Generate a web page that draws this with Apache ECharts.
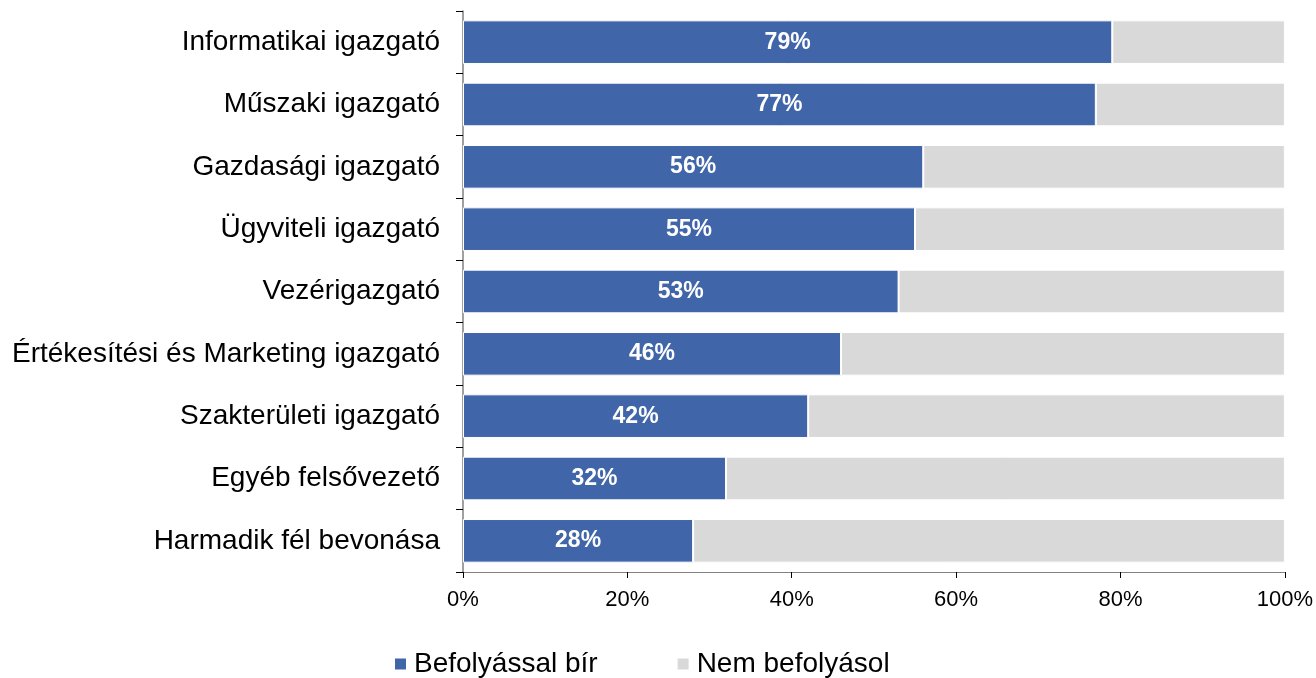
<!DOCTYPE html>
<html>
<head>
<meta charset="utf-8">
<script src="https://cdn.jsdelivr.net/npm/echarts@6/dist/echarts.min.js"></script>
<style>
  html, body { margin: 0; padding: 0; background: #fff; }
  #chart { width: 1316px; height: 678px; }
</style>
</head>
<body>
<div id="chart"></div>
<script>
// kategóriák felülről lefelé
const categories = [
  'Informatikai igazgató',
  'Műszaki igazgató',
  'Gazdasági igazgató',
  'Ügyviteli igazgató',
  'Vezérigazgató',
  'Értékesítési és Marketing igazgató',
  'Szakterületi igazgató',
  'Egyéb felsővezető',
  'Harmadik fél bevonása'
]
const befolyasol = [79, 77, 56, 55, 53, 46, 42, 32, 28]
const nemBefolyasol = [21, 23, 44, 45, 47, 54, 58, 68, 72]
const seriesNames = ['Befolyással bír', 'Nem befolyásol']

const chart = echarts.init(document.getElementById('chart'))

const font = 'Liberation Sans, Arial, sans-serif'

chart.setOption({
  backgroundColor: '#fff',
  animation: false,
  textStyle: { fontFamily: font },
  legend: {
    top: 645,
    left: 388,
    itemWidth: 13,
    itemHeight: 13,
    itemGap: 78,
    icon: 'rect',
    textStyle: { fontSize: 28, color: '#000', fontFamily: font, padding: [0, 0, 0, 2] },
    data: seriesNames
  },
  grid: {
    left: 463,
    right: 30,
    top: 11,
    bottom: 106
  },
  xAxis: {
    type: 'value',
    min: 0,
    max: 100,
    interval: 20,
    axisLine: { show: true, lineStyle: { color: '#808080' } },
    axisTick: { show: true, length: 6, lineStyle: { color: '#000' } },
    splitLine: { show: false },
    axisLabel: {
      formatter: '{value}%',
      fontSize: 22,
      color: '#000',
      margin: 17,
      fontFamily: font
    }
  },
  yAxis: {
    type: 'category',
    inverse: true,
    data: categories,
    axisLine: { show: true, lineStyle: { color: '#808080', width: 1.5 } },
    axisTick: { show: true, length: 7, lineStyle: { color: '#000' } },
    axisLabel: {
      fontSize: 28,
      color: '#000',
      margin: 23,
      fontFamily: font
    }
  },
  series: [
    {
      name: seriesNames[0],
      type: 'bar',
      stack: 'total',
      barWidth: '70%',
      data: befolyasol,
      itemStyle: { color: '#4065A8', borderColor: '#fff', borderWidth: 1 },
      label: {
        show: true,
        position: 'inside',
        formatter: '{c}%',
        color: '#fff',
        fontWeight: 'bold',
        fontSize: 23,
        fontFamily: font
      }
    },
    {
      name: seriesNames[1],
      type: 'bar',
      stack: 'total',
      data: nemBefolyasol,
      itemStyle: { color: '#D9D9D9', borderColor: '#fff', borderWidth: 1 }
    }
  ]
})
</script>
</body>
</html>
